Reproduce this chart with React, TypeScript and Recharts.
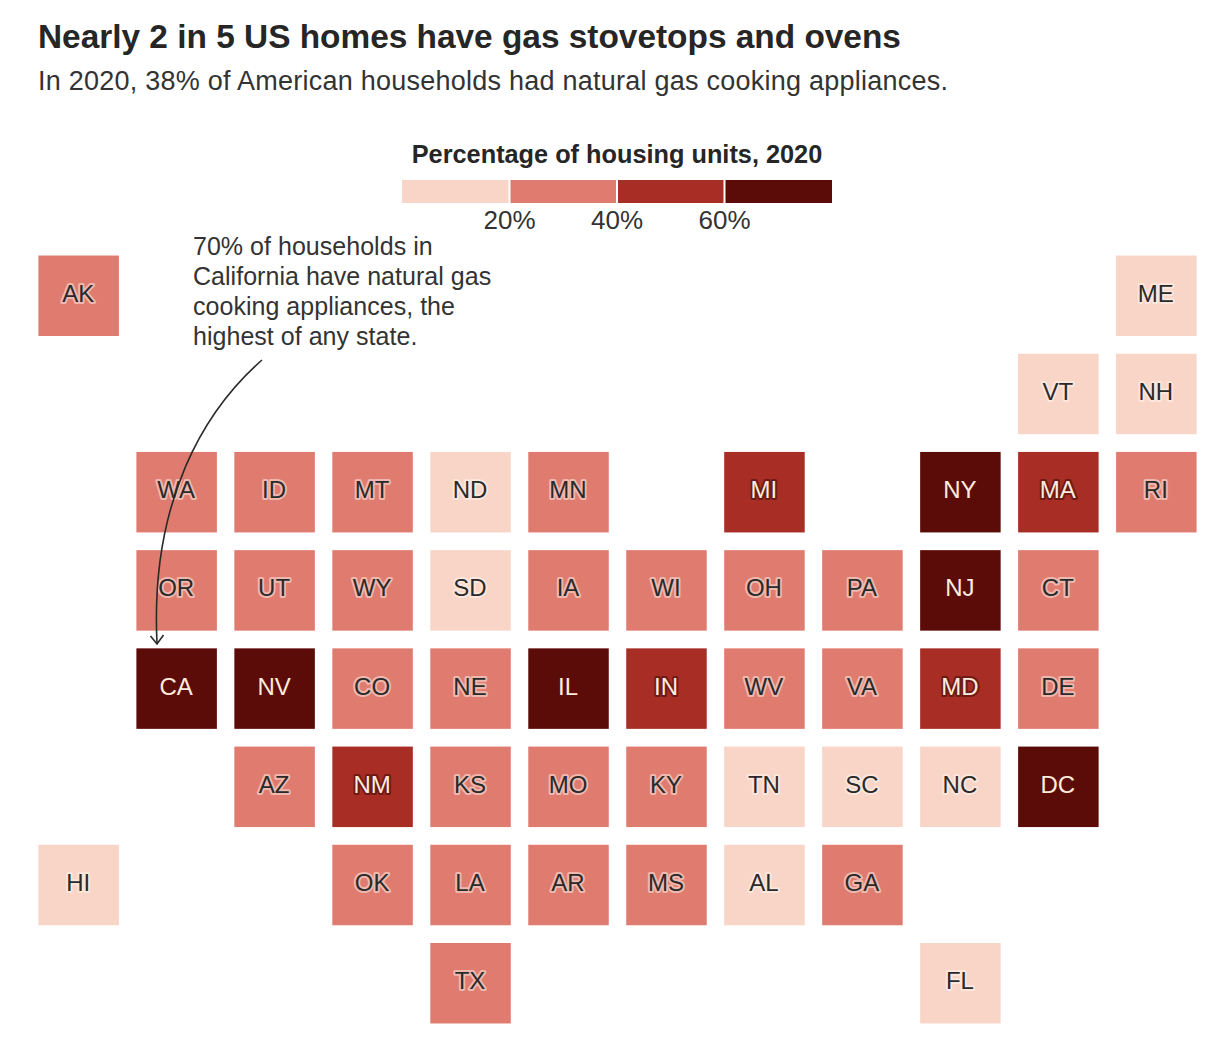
import React from "react";
import { ScatterChart, Scatter, XAxis, YAxis, BarChart, Bar, Cell } from "recharts";

const states = ["AK","ME","VT","NH","WA","ID","MT","ND","MN","MI","NY","MA","RI","OR","UT","WY","SD","IA","WI","OH","PA","NJ","CT","CA","NV","CO","NE","IL","IN","WV","VA","MD","DE","AZ","NM","KS","MO","KY","TN","SC","NC","DC","HI","OK","LA","AR","MS","AL","GA","TX","FL"];
const cols = [0,11,10,11,1,2,3,4,5,7,9,10,11,1,2,3,4,5,6,7,8,9,10,1,2,3,4,5,6,7,8,9,10,2,3,4,5,6,7,8,9,10,0,3,4,5,6,7,8,4,9];
const rows = [0,0,1,1,2,2,2,2,2,2,2,2,2,3,3,3,3,3,3,3,3,3,3,4,4,4,4,4,4,4,4,4,4,5,5,5,5,5,5,5,5,5,6,6,6,6,6,6,6,7,7];
const shares = [26,10,5,12,30,32,27,16,30,50,62,47,35,34,35,30,17,31,33,37,38,68,36,70,62,37,31,64,42,24,24,47,27,33,47,37,33,30,16,14,14,65,8,29,25,24,21,14,24,30,8];

const legendBands = [20,20,20,20];
const legendTicks = [20,40,60];
const PALETTE = ["#f9d5c7","#e07c6f","#a72d25","#5c0c08"];
const HALO = ["#fde6dc","#efb8ae","#6e1a14","#5c0c08"];
const INK = "#2a2a2a";
const PAPER = "#fdebdc";
const FONT = "'Liberation Sans', Arial, sans-serif";

const band = (v: number) => (v < 20 ? 0 : v < 40 ? 1 : v < 60 ? 2 : 3);
const tiles = states.map((s, i) => ({ state: s, col: cols[i], row: rows[i], share: shares[i] }));
const legendRow = [Object.fromEntries(legendBands.map((v, i) => ["b" + i, v]))];
const noteLines = ["70% of households in","California have natural gas","cooking appliances, the","highest of any state."];

const SIZE = 80.5;
const Tile = (p: any) => {
  const b = band(p.payload.share);
  return (
    <g>
      <rect x={p.cx - SIZE / 2} y={p.cy - SIZE / 2} width={SIZE} height={SIZE} fill={PALETTE[b]} />
      <text x={p.cx - 0.5} y={p.cy} dy={6} textAnchor="middle" fontFamily={FONT} fontSize={24}
        fill={b >= 2 ? PAPER : INK} stroke={HALO[b]} strokeWidth={4} strokeLinejoin="round" style={{ paintOrder: "stroke" }}>
        {p.payload.state}
      </text>
    </g>
  );
};

export default function App() {
  return (
    <div style={{ position: "absolute", left: 0, top: 0, width: 1232, height: 1054, background: "#fff", fontFamily: FONT, overflow: "hidden" }}>
      <div style={{ position: "absolute", left: 38, top: 18, fontSize: 33.4, fontWeight: 700, color: "#262626", whiteSpace: "nowrap", lineHeight: "38px" }}>
        Nearly 2 in 5 US homes have gas stovetops and ovens
      </div>
      <div style={{ position: "absolute", left: 38, top: 65, fontSize: 27, letterSpacing: 0.24, color: "#333", whiteSpace: "nowrap", lineHeight: "32px" }}>
        In 2020, 38% of American households had natural gas cooking appliances.
      </div>
      <div style={{ position: "absolute", left: 317, width: 600, textAlign: "center", top: 139, fontSize: 25.3, fontWeight: 700, color: "#262626", lineHeight: "30px" }}>
        Percentage of housing units, 2020
      </div>
      <div style={{ position: "absolute", left: 402, top: 180 }}>
        <BarChart width={430} height={60} data={legendRow} layout="vertical" barCategoryGap={0} margin={{ top: 0, right: 0, bottom: 0, left: 0 }}>
          <XAxis type="number" domain={[0, 80]} ticks={legendTicks} tickFormatter={(v: number) => v + "%"} axisLine={false} tickLine={false} tickMargin={2}
            interval={0} height={37} tick={{ fontSize: 26, fill: "#333", fontFamily: FONT }} />
          <YAxis type="category" hide />
          {legendBands.map((_, i) => (
            <Bar key={i} dataKey={"b" + i} stackId="a" isAnimationActive={false} stroke="#fff" strokeWidth={0}>
              <Cell fill={PALETTE[i]} />
            </Bar>
          ))}
        </BarChart>
      </div>
      <svg width={430} height={23} style={{ position: "absolute", left: 402, top: 180, pointerEvents: "none" }}>
        {legendTicks.map((t) => <line key={t} x1={t * 5.375} x2={t * 5.375} y1={0} y2={23} stroke="#fff" strokeWidth={2} />)}
      </svg>
      <div style={{ position: "absolute", left: 0, top: 0 }}>
        <ScatterChart width={1232} height={1054} margin={{ top: 255.5, right: 35.5, bottom: 30.5, left: 38.5 }}>
          <XAxis type="number" dataKey="col" domain={[-0.41, 11.41]} hide />
          <YAxis type="number" dataKey="row" domain={[-0.41, 7.41]} reversed hide />
          <Scatter data={tiles} shape={Tile} isAnimationActive={false} />
        </ScatterChart>
      </div>
      <div style={{ position: "absolute", left: 193, top: 231, fontSize: 25, letterSpacing: 0.03, lineHeight: "30px", color: "#333", whiteSpace: "nowrap" }}>
        {noteLines.map((l) => <div key={l}>{l}</div>)}
      </div>
      <svg width={1232} height={1054} style={{ position: "absolute", left: 0, top: 0, pointerEvents: "none" }}>
        <path d="M262 360 C205 410 150 500 157 643" fill="none" stroke="#2a2a2a" strokeWidth={1.6} />
        <path d="M150.5 636 L157 644 L163.5 635" fill="none" stroke="#2a2a2a" strokeWidth={1.6} />
      </svg>
    </div>
  );
}
